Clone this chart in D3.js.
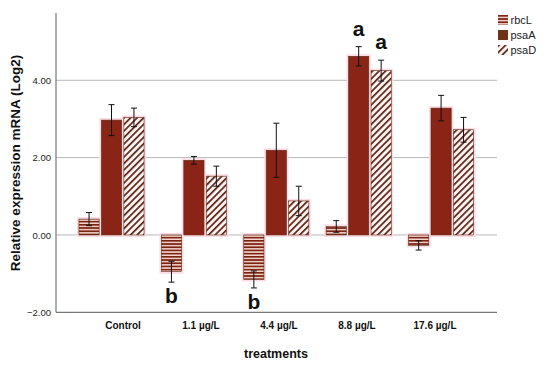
<!DOCTYPE html>
<html>
<head>
<meta charset="utf-8">
<script src="https://cdn.jsdelivr.net/npm/d3@7"></script>
<style>
  body { margin: 0; background: #fff; }
  svg { font-family: "Liberation Sans", Arial, sans-serif; }
</style>
</head>
<body>
<svg id="chart" width="550" height="368"></svg>
<script>
// data
const categories = ["Control", "1.1 \u00b5g/L", "4.4 \u00b5g/L", "8.8 \u00b5g/L", "17.6 \u00b5g/L"];
const series = ["rbcL", "psaA", "psaD"];
const rbcL = [0.41, -0.95, -1.15, 0.22, -0.27];
const rbcLErr = [0.17, 0.27, 0.22, 0.15, 0.12];
const psaA = [2.97, 1.93, 2.19, 4.62, 3.28];
const psaAErr = [0.40, 0.10, 0.70, 0.25, 0.33];
const psaD = [3.04, 1.52, 0.88, 4.25, 2.72];
const psaDErr = [0.24, 0.26, 0.38, 0.27, 0.32];
const yTicks = [-2, 0, 2, 4];
const letters = [
  { cat: "1.1 \u00b5g/L", s: "rbcL", text: "b" },
  { cat: "4.4 \u00b5g/L", s: "rbcL", text: "b" },
  { cat: "8.8 \u00b5g/L", s: "psaA", text: "a" },
  { cat: "8.8 \u00b5g/L", s: "psaD", text: "a" }
];

const values = { rbcL, psaA, psaD };
const errs = { rbcL: rbcLErr, psaA: psaAErr, psaD: psaDErr };

const svg = d3.select("#chart");
const plotLeft = 56, plotRight = 497, plotTop = 13, plotBottom = 312.3;

const y = d3.scaleLinear().domain([-2, 5.74]).range([plotBottom, plotTop]);
const x0 = d3.scaleBand().domain(categories).range([70.3, 482.3])
  .paddingInner(0.21).paddingOuter(0.105);
const x1 = d3.scaleBand().domain(series).range([0, x0.bandwidth()]).paddingInner(0.1);
const xLabel = d3.scalePoint().domain(categories).range([123, 435]);

const dark = "#8a2417";
const edge = "#5e2a12";

// patterns
const defs = svg.append("defs");
const horiz = defs.append("pattern").attr("id", "horiz")
  .attr("patternUnits", "userSpaceOnUse").attr("width", 6).attr("height", 3.2);
horiz.append("rect").attr("width", 6).attr("height", 3.2).attr("fill", "#f7d6cf");
horiz.append("rect").attr("y", 0).attr("width", 6).attr("height", 1.7).attr("fill", "#7a2414");

const diag = defs.append("pattern").attr("id", "diag")
  .attr("patternUnits", "userSpaceOnUse").attr("width", 4.6).attr("height", 4.6)
  .attr("patternTransform", "rotate(45)");
diag.append("rect").attr("width", 4.6).attr("height", 4.6).attr("fill", "#fff4f3");
diag.append("rect").attr("width", 1.7).attr("height", 4.6).attr("fill", "#5c2414");

const fills = { rbcL: "url(#horiz)", psaA: dark, psaD: "url(#diag)" };

// gridlines
svg.append("g").selectAll("line")
  .data(yTicks.filter(t => t > -2))
  .join("line")
  .attr("x1", plotLeft).attr("x2", plotRight)
  .attr("y1", d => y(d)).attr("y2", d => y(d))
  .attr("stroke", "#b8b8b8").attr("stroke-width", 1);

// y axis
const yAxis = svg.append("g")
  .attr("transform", `translate(${plotLeft},0)`)
  .call(d3.axisLeft(y).tickValues(yTicks).tickFormat(d3.format(".2f")).tickSize(0).tickPadding(5));
yAxis.select(".domain").remove();
yAxis.selectAll("text").attr("font-size", 9.5).attr("fill", "#222")
  .attr("font-family", "Liberation Sans, Arial, sans-serif");

svg.append("line").attr("x1", plotLeft).attr("x2", plotLeft).attr("y1", plotTop).attr("y2", plotBottom)
  .attr("stroke", "#777").attr("stroke-width", 1.2);
svg.append("line").attr("x1", plotLeft).attr("x2", plotRight).attr("y1", plotBottom).attr("y2", plotBottom)
  .attr("stroke", "#777").attr("stroke-width", 1.2);

// bars
const rows = [];
categories.forEach((c, i) => series.forEach(s => rows.push({ c, s, v: values[s][i], e: errs[s][i] })));

const groups = svg.append("g");
// soft pink halo around bars
groups.selectAll("rect.halo")
  .data(rows).join("rect").attr("class", "halo")
  .attr("x", d => x0(d.c) + x1(d.s) - 2)
  .attr("y", d => Math.min(y(d.v), y(0)) - 2)
  .attr("width", x1.bandwidth() + 4)
  .attr("height", d => Math.abs(y(d.v) - y(0)) + 4)
  .attr("fill", "#fcdde6");
groups.selectAll("rect.bar")
  .data(rows).join("rect").attr("class", "bar")
  .attr("x", d => x0(d.c) + x1(d.s))
  .attr("y", d => Math.min(y(d.v), y(0)))
  .attr("width", x1.bandwidth())
  .attr("height", d => Math.abs(y(d.v) - y(0)))
  .attr("fill", d => fills[d.s])
  .attr("stroke", edge).attr("stroke-width", 0.6);

// error bars
const eb = svg.append("g").attr("stroke", "#111").attr("stroke-width", 1);
rows.forEach(d => {
  const cx = x0(d.c) + x1(d.s) + x1.bandwidth() / 2;
  eb.append("line").attr("x1", cx).attr("x2", cx).attr("y1", y(d.v + d.e)).attr("y2", y(d.v - d.e));
  eb.append("line").attr("x1", cx - 3).attr("x2", cx + 3).attr("y1", y(d.v + d.e)).attr("y2", y(d.v + d.e));
  eb.append("line").attr("x1", cx - 3).attr("x2", cx + 3).attr("y1", y(d.v - d.e)).attr("y2", y(d.v - d.e));
});

// significance letters
svg.append("g").selectAll("text")
  .data(letters).join("text")
  .attr("x", d => x0(d.cat) + x1(d.s) + x1.bandwidth() / 2)
  .attr("y", d => {
    const i = categories.indexOf(d.cat);
    const v = values[d.s][i], e = errs[d.s][i];
    return v >= 0 ? y(v + e) - 11 : y(v - e) + 21;
  })
  .attr("text-anchor", "middle")
  .attr("font-size", 21).attr("font-weight", "bold").attr("fill", "#111")
  .text(d => d.text);

// category labels
svg.append("g").selectAll("text")
  .data(categories).join("text")
  .attr("x", d => xLabel(d)).attr("y", 329)
  .attr("text-anchor", "middle")
  .attr("font-size", 10).attr("font-weight", "bold").attr("fill", "#111")
  .text(d => d);

// axis titles
svg.append("text")
  .attr("x", 276).attr("y", 358)
  .attr("text-anchor", "middle")
  .attr("font-size", 12.5).attr("font-weight", "bold").attr("fill", "#111")
  .text("treatments");
svg.append("text")
  .attr("transform", "translate(20,163) rotate(-90)")
  .attr("text-anchor", "middle")
  .attr("font-size", 13.5).attr("font-weight", "bold").attr("fill", "#111")
  .text("Relative expression mRNA (Log2)");

// legend
const legendFill = { rbcL: "url(#horiz)", psaA: "#6e3416", psaD: "url(#diag)" };
const lg = svg.append("g").attr("transform", "translate(498,15)");
const item = lg.selectAll("g").data(series).join("g")
  .attr("transform", (d, i) => `translate(0,${i * 15})`);
item.append("rect").attr("width", 10).attr("height", 10).attr("fill", d => legendFill[d]);
item.append("text").attr("x", 12.5).attr("y", 9)
  .attr("font-size", 11).attr("fill", "#222")
  .text(d => d);
</script>
</body>
</html>
